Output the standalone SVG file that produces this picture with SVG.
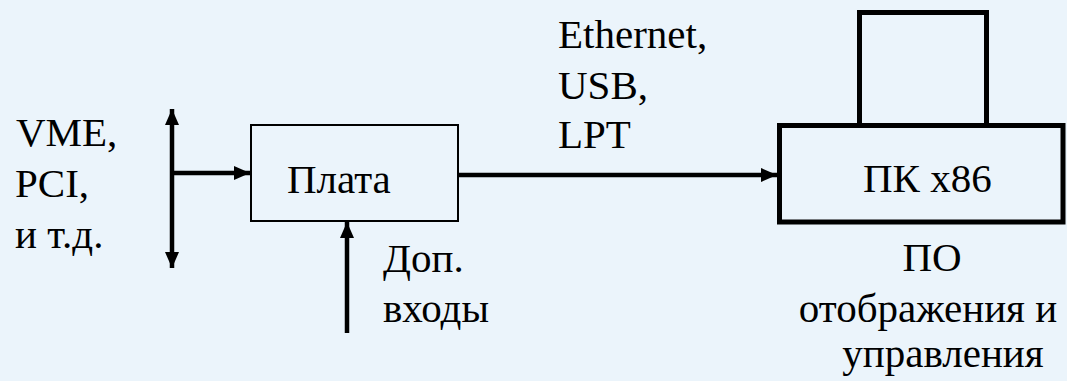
<svg xmlns="http://www.w3.org/2000/svg" width="1067" height="381" viewBox="0 0 1067 381">
<style>
text{font-family:'Liberation Serif',serif;font-size:41px;fill:#000}
.m{text-anchor:middle}
.box{fill:none;stroke:#000}
.wire{fill:none;stroke:#000;stroke-width:4.5}
</style>
<defs>
<marker id="ah" viewBox="0 0 16 14" refX="16" refY="7" markerWidth="16" markerHeight="14" markerUnits="userSpaceOnUse" orient="auto-start-reverse">
<path d="M0,0 L16,7 L0,14 Z" fill="#000"/>
</marker>
</defs>
<rect width="1067" height="381" fill="#ebf4fb"/>
<g id="connectors">
<line class="wire" x1="172" y1="109" x2="172" y2="268" marker-start="url(#ah)" marker-end="url(#ah)"/>
<line class="wire" x1="172" y1="173" x2="250" y2="173" marker-end="url(#ah)"/>
<line class="wire" x1="347" y1="333" x2="347" y2="222" marker-end="url(#ah)"/>
<line class="wire" x1="458" y1="175" x2="777" y2="175" marker-end="url(#ah)"/>
</g>
<g id="bus-label">
<text x="16" y="146" font-family="Liberation Serif" style="font-family:'Liberation Serif'">VME,</text>
<text x="15" y="197" font-family="Liberation Serif" style="font-family:'Liberation Serif'">PCI,</text>
<text x="15" y="248" font-family="Liberation Serif" style="font-family:'Liberation Serif'">и т.д.</text>
</g>
<g id="plata">
<rect class="box" x="251" y="125" width="207" height="96" stroke-width="2"/>
<text x="287" y="193" font-family="Liberation Serif" style="font-family:'Liberation Serif'">Плата</text>
</g>
<g id="extra-inputs">
<text x="383" y="272" font-family="Liberation Serif" style="font-family:'Liberation Serif'">Доп.</text>
<text x="383" y="322" font-family="Liberation Serif" style="font-family:'Liberation Serif'">входы</text>
</g>
<g id="link-label">
<text x="558" y="48" font-family="Liberation Serif" style="font-family:'Liberation Serif'">Ethernet,</text>
<text x="558" y="99" font-family="Liberation Serif" style="font-family:'Liberation Serif'">USB,</text>
<text x="558" y="148" font-family="Liberation Serif" style="font-family:'Liberation Serif'">LPT</text>
</g>
<g id="pc">
<path class="box" d="M859.5,126 V12.5 H986.5 V126" stroke-width="5"/>
<rect class="box" x="779.5" y="125.5" width="283.5" height="96.5" stroke-width="5"/>
<text x="863" y="192" font-family="Liberation Serif" style="font-family:'Liberation Serif'">ПК x86</text>
</g>
<g id="software">
<text class="m" x="932" y="271" font-family="Liberation Serif" style="font-family:'Liberation Serif'">ПО</text>
<text class="m" x="928" y="322" font-family="Liberation Serif" style="font-family:'Liberation Serif'">отображения и</text>
<text class="m" x="943" y="367" font-family="Liberation Serif" style="font-family:'Liberation Serif'">управления</text>
</g>
</svg>
